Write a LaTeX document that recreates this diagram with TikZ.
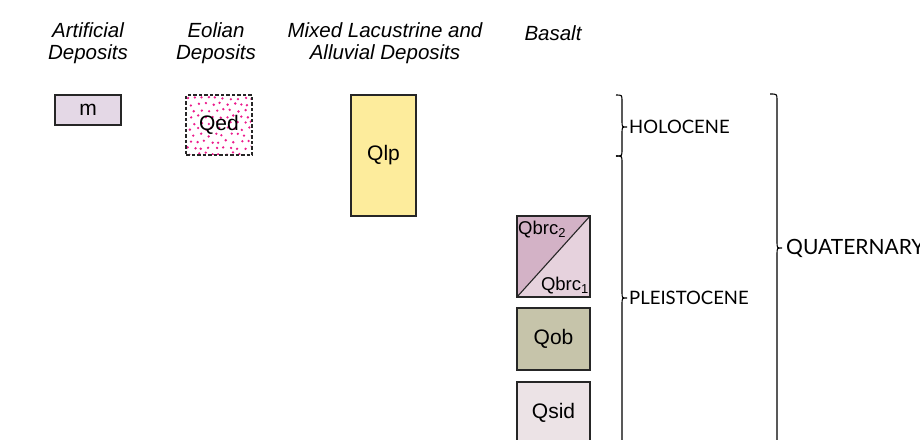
\documentclass[tikz,border=0pt]{standalone}
\usepackage{fontspec}
\setmainfont{Liberation Sans}
\newfontfamily\agefont{Lato}
\begin{document}
\begin{tikzpicture}[x=1pt,y=-1pt,
  header/.style={font=\itshape\fontsize{20.5}{22}\selectfont, align=center, inner sep=0pt},
  unitbox/.style={draw=black!85, line width=1.1pt, inner sep=0pt, font=\fontsize{21}{22}\selectfont},
  agelabel/.style={font=\agefont\fontsize{18.5}{20}\selectfont, anchor=west, inner sep=0pt},
  subtext/.style={inner sep=0pt, font=\fontsize{18.5}{20}\selectfont},
  bracket/.style={line width=1.1pt, black}]
\useasboundingbox (0,0) rectangle (920,439);

\definecolor{cm}{HTML}{E4D8E6}
\definecolor{clp}{HTML}{FDEC9C}
\definecolor{cbrctwo}{HTML}{D3B2C6}
\definecolor{cbrcone}{HTML}{E6D2DD}
\definecolor{cob}{HTML}{C6C4AA}
\definecolor{csid}{HTML}{ECE3E6}
\definecolor{cdot}{HTML}{EC1C8C}

% column headings
\node[header] (hart) at (88,43) {Artificial\\Deposits};
\node[header] (heol) at (216,43) {Eolian\\Deposits};
\node[header] (hmix) at (385,43) {Mixed Lacustrine and\\Alluvial Deposits};
\node[header] (hbas) at (553,33) {Basalt};

% map units
\node[unitbox, fill=cm, minimum width=66, minimum height=30] (m) at (88,110) {m};

% eolian unit: dotted fill inside a dashed frame
\begin{scope}
  \clip (187,96) rectangle (251,154);
  \pgfmathsetseed{11}
  \foreach \j in {0,...,9} {
    \foreach \i in {0,...,9} {
      \pgfmathsetmacro{\dx}{187+\i*7.2+mod(\j,2)*3.6+rand*1.6}
      \pgfmathsetmacro{\dy}{98+\j*6.2+rand*1.6}
      \fill[cdot] (\dx,\dy) circle (1.3);
    }
  }
\end{scope}
\node[draw=black!85, line width=1.2pt, dash pattern=on 3.5pt off 2pt,
      minimum width=66, minimum height=60, inner sep=0pt,
      font=\fontsize{21}{22}\selectfont] (qed) at (219,125) {Qed};

\node[unitbox, fill=clp, minimum width=65, minimum height=121] (qlp) at (383.5,155.5) {Qlp};

% split basalt unit
\coordinate (bl) at (517,297);
\coordinate (tr) at (590,216);
\fill[cbrctwo] (517,216) -- (tr) -- (bl) -- cycle;
\fill[cbrcone] (590,297) -- (tr) -- (bl) -- cycle;
\node[draw=black!85, line width=1.1pt, minimum width=73, minimum height=81, inner sep=0pt] (qbrc) at (553.5,256.5) {};
\draw[line width=1.1pt, black!85] (qbrc.south west) -- (qbrc.north east);
\node[subtext, anchor=north west] (qbrctwo) at (518,221) {Qbrc\textsubscript{2}};
\node[subtext, anchor=south east] (qbrcone) at (589,294) {Qbrc\textsubscript{1}};

\node[unitbox, fill=cob, minimum width=73, minimum height=62] (qob) at (553.5,339) {Qob};
\node[unitbox, fill=csid, minimum width=73, minimum height=62] (qsid) at (553.5,413) {Qsid};

% age braces
\draw[bracket] (616,95) .. controls (622,95) .. (622,101) -- (622,121)
  .. controls (622,127) .. (627,127) .. controls (622,127) .. (622,133)
  -- (622,150) .. controls (622,156) .. (616,156);
\draw[bracket] (616,156) .. controls (622,156) .. (622,162) -- (622,292)
  .. controls (622,298) .. (627,298) .. controls (622,298) .. (622,304)
  -- (622,450);
\draw[bracket] (770,94) .. controls (777,94) .. (777,100) -- (777,242)
  .. controls (777,248) .. (782,248) .. controls (777,248) .. (777,254)
  -- (777,450);

\node[agelabel] (holo) at (629,127) {HOLOCENE};
\node[agelabel] (pleis) at (629,298) {PLEISTOCENE};
\node[agelabel, font=\agefont\fontsize{21}{22}\selectfont] (quat) at (786,248) {QUATERNARY};
\end{tikzpicture}
\end{document}
